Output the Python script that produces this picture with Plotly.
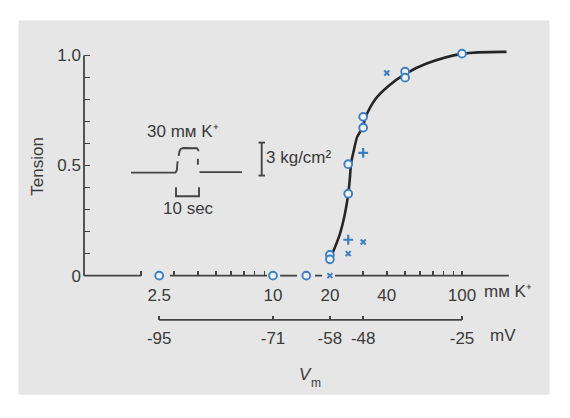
import plotly.graph_objects as go

# ---------------- data ----------------
# open circles
CIRCLE_K = [2.5, 10, 15, 20, 20, 25, 25, 30, 30, 50, 50, 100]
CIRCLE_T = [0, 0, 0, 0.094, 0.074, 0.506, 0.372, 0.721, 0.672, 0.926, 0.899, 1.008]
# "x" symbols
XMARK_K = [20, 25, 30, 40]
XMARK_T = [0, 0.10, 0.153, 0.92]
# "+" symbols
PLUS_K = [25, 30]
PLUS_T = [0.163, 0.557]
# hand-drawn fitted curve
CURVE_K = [20.6, 22.6, 24.0, 25.0, 25.5, 25.9, 26.8, 27.9, 29.7, 30.9, 34.7, 40.7, 49.9, 65, 100, 172]
CURVE_T = [0.10, 0.19, 0.28, 0.37, 0.44, 0.51, 0.57, 0.63, 0.67, 0.72, 0.80, 0.86, 0.915, 0.963, 1.007, 1.016]

# axis ticks / labels
K_MINOR_TICKS = [2, 3, 4, 5, 6, 7, 8, 9, 30, 40, 50, 60, 70, 80, 90, 100]
K_LABEL_VALS = [2.5, 10, 20, 40, 100]
K_LABEL_TEXT = ["2.5", "10", "20", "40", "100"]
MV_K = [2.5, 10, 20, 30, 100]
MV_TEXT = ["-95", "-71", "-58", "-48", "-25"]
T_LABEL_VALS = [0, 0.5, 1.0]
T_LABEL_TEXT = ["0", "0.5", "1.0"]
T_MINOR_TICKS = [0.1, 0.2, 0.3, 0.4, 0.6, 0.7, 0.8, 0.9]
# pieces of the broken K+ axis line (gaps around the points on it)
AXIS_PIECES = [(1, 2), (2.85, 9.3), (10.9, 13.4), (16.7, 18.2), (21.3, 177)]

# ---------------- styling ----------------
W, H = 570, 418
FONT = "Liberation Sans, Arial, Helvetica, sans-serif"
TXT = "#3a3a3a"
LINE = "#444444"
BLUE = "#3b7fc0"
FS = 17


def px(x):
    return x / W


def py(y):
    return 1 - y / H


def path(points):
    return "M" + " L".join(f"{px(x):.5f},{py(y):.5f}" for x, y in points)


fig = go.Figure()

# broken x-axis line
ax_x, ax_y = [], []
for a, b in AXIS_PIECES:
    ax_x += [a, b, None]
    ax_y += [0, 0, None]
fig.add_trace(go.Scatter(x=ax_x, y=ax_y, mode="lines", line=dict(color=LINE, width=1.8),
                         hoverinfo="skip", xaxis="x", yaxis="y"))

# curve
fig.add_trace(go.Scatter(x=CURVE_K, y=CURVE_T, mode="lines",
                         line=dict(color="#262626", width=2.6, shape="spline", smoothing=1.0),
                         hoverinfo="skip", xaxis="x", yaxis="y"))

# points
fig.add_trace(go.Scatter(x=CIRCLE_K, y=CIRCLE_T, mode="markers", cliponaxis=False,
                         marker=dict(symbol="circle", size=7.8, color="#f1f3f6",
                                     line=dict(color=BLUE, width=1.9)),
                         xaxis="x", yaxis="y"))
fig.add_trace(go.Scatter(x=XMARK_K, y=XMARK_T, mode="markers", cliponaxis=False,
                         marker=dict(symbol="x-thin", size=5, line=dict(color=BLUE, width=2)),
                         xaxis="x", yaxis="y"))
fig.add_trace(go.Scatter(x=PLUS_K, y=PLUS_T, mode="markers", cliponaxis=False,
                         marker=dict(symbol="cross-thin", size=7, line=dict(color=BLUE, width=2.2)),
                         xaxis="x", yaxis="y"))

# mV axis line
fig.add_trace(go.Scatter(x=[MV_K[0], MV_K[-1]], y=[0, 0], mode="lines",
                         line=dict(color=LINE, width=1.8), hoverinfo="skip",
                         xaxis="x3", yaxis="y3"))

# geometry
X0_PIX = 84.0
DEC = 189.0
LOG_MAX = 2.4
Y0_PIX = 278.3
UNIT = 224.0
YR = [-0.02, 1.03]
xdom = [px(X0_PIX), px(X0_PIX + LOG_MAX * DEC)]
ydom = [py(Y0_PIX - YR[0] * UNIT), py(Y0_PIX - YR[1] * UNIT)]
MV_PIX = 323.3

common_x = dict(type="log", range=[0, LOG_MAX], domain=xdom, showgrid=False,
                zeroline=False, showline=False)

fig.update_layout(
    width=W, height=H, autosize=False,
    margin=dict(l=0, r=0, t=0, b=0, pad=0),
    paper_bgcolor="white", plot_bgcolor="rgba(0,0,0,0)",
    showlegend=False, hovermode=False,
    font=dict(family=FONT, size=FS, color=TXT),
    xaxis=dict(**common_x, anchor="free", position=py(Y0_PIX),
               tickmode="array", tickvals=K_LABEL_VALS, ticktext=K_LABEL_TEXT,
               ticks="", ticklabelstandoff=7,
               tickfont=dict(family=FONT, size=FS, color=TXT),
               minor=dict(tickmode="array", tickvals=K_MINOR_TICKS, ticks="inside",
                          ticklen=5, tickwidth=1.6, tickcolor=LINE, showgrid=False)),
    xaxis3=dict(**common_x, anchor="free", position=py(MV_PIX),
                tickmode="array", tickvals=MV_K, ticktext=MV_TEXT,
                ticks="inside", ticklen=4, tickwidth=1.6, tickcolor=LINE,
                ticklabelstandoff=6,
                tickfont=dict(family=FONT, size=FS, color=TXT)),
    yaxis=dict(range=YR, domain=ydom, anchor="x", showgrid=False, zeroline=False,
               showline=False, tickmode="array", tickvals=T_LABEL_VALS, ticktext=T_LABEL_TEXT,
               ticks="inside", ticklen=6, tickwidth=1.6, tickcolor=LINE,
               ticklabelstandoff=2,
               tickfont=dict(family=FONT, size=FS, color=TXT),
               minor=dict(tickmode="array", tickvals=T_MINOR_TICKS, ticks="inside",
                          ticklen=6, tickwidth=1.6, tickcolor=LINE, showgrid=False)),
    yaxis3=dict(range=[-1, 1], domain=[py(MV_PIX + 10), py(MV_PIX - 10)], anchor="x3",
                visible=False, showgrid=False, zeroline=False),
)

shapes = []
# panel background
shapes.append(dict(type="rect", xref="paper", yref="paper", layer="below",
                   x0=px(18.5), x1=px(549.5), y0=py(399.5), y1=py(18.5),
                   fillcolor="#e6e6e7", line=dict(width=0)))
# y axis line from 0 to 1
shapes.append(dict(type="line", xref="x domain", yref="y", x0=0, x1=0, y0=0, y1=1,
                   line=dict(color=LINE, width=1.8)))
# inset record
ins = dict(type="path", xref="paper", yref="paper", line=dict(color=LINE, width=1.9))
for pts in [
    [(131, 173.5), (175.5, 173.5), (176.8, 171), (177.6, 162)],
    [(178.6, 156.5), (179.6, 151.5), (181, 149.2), (183.5, 148.5), (197, 148.7), (198.8, 151.5)],
    [(197.9, 159.5), (197.9, 165.5)],
    [(199.5, 173), (242, 173)],
    [(261.7, 143), (261.7, 176.5)],
    [(258.5, 143), (265, 143)],
    [(258.5, 176.5), (265, 176.5)],
    [(176, 188.5), (176, 197.5), (199, 197.5), (199, 188.5)],
]:
    shapes.append(dict(ins, path=path(pts)))
fig.update_layout(shapes=shapes)


def ann(text, x, y, xanchor="center", yanchor="middle", size=FS, style="normal", **kw):
    fig.add_annotation(text=text, x=px(x), y=py(y), xref="paper", yref="paper",
                       showarrow=False, xanchor=xanchor, yanchor=yanchor,
                       font=dict(family=FONT, size=size, color=TXT, style=style),
                       borderpad=0, **kw)


ann("Tension", 37.5, 167, textangle=-90)
ann("30 m\u1d0d K⁺", 183.4, 132)
ann("10 sec", 188.3, 210)
ann("3 kg/cm²", 264.5, 158, xanchor="left")
ann("m\u1d0d K⁺", 483, 294, xanchor="left")
ann("mV", 503, 339)
ann("V", 313, 379, xanchor="right", style="italic")
ann("m", 310, 387, xanchor="left", size=12)

fig.write_html("out.html", post_script="document.body.style.margin='0';",
               config={"displayModeBar": False, "staticPlot": True})
